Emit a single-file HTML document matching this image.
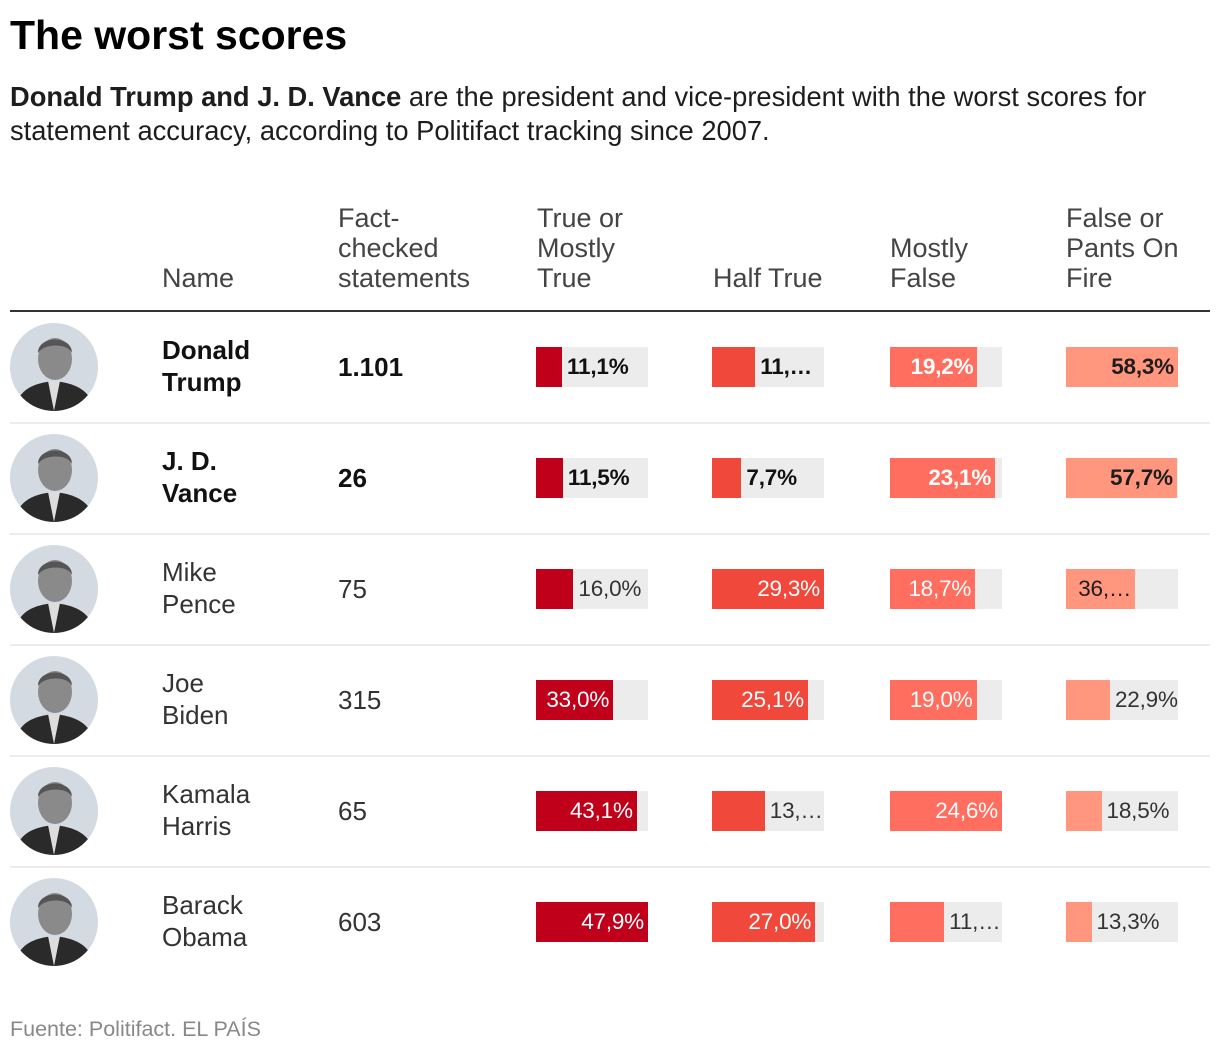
<!DOCTYPE html>
<html><head><meta charset="utf-8">
<style>
body{margin:0;width:1220px;height:1054px;background:#fff;font-family:"Liberation Sans",sans-serif;position:relative;overflow:hidden;color:#1d1d1d}
.a{position:absolute;white-space:nowrap}
#title{left:10px;top:12px;font-size:41px;font-weight:bold;color:#000}
#sub{left:10px;top:80px;font-size:27.3px;line-height:34px;color:#1d1d1d}
.hd{font-size:27px;line-height:30px;color:#444}
.nm{font-size:26px;line-height:32px}
.ct{font-size:26px}
.cell{position:absolute;height:40px;background:#ececec}
.bar{position:absolute;left:0;top:0;height:40px}
.lbl{position:absolute;top:0;line-height:40px;font-size:22.5px;letter-spacing:-0.2px}
.sep{position:absolute;left:10px;width:1200px;height:2px;background:#ececec}
</style></head><body>
<div class="a" id="title">The worst scores</div>
<div class="a" id="sub"><b>Donald Trump and J. D. Vance</b> are the president and vice-president with the worst scores for<br>statement accuracy, according to Politifact tracking since 2007.</div>
<div class="a hd" style="left:162px;top:263px">Name</div>
<div class="a hd" style="left:338px;top:203px">Fact-<br>checked<br>statements</div>
<div class="a hd" style="left:537px;top:203px">True or<br>Mostly<br>True</div>
<div class="a hd" style="left:713px;top:263px">Half True</div>
<div class="a hd" style="left:890px;top:233px">Mostly<br>False</div>
<div class="a hd" style="left:1066px;top:203px">False or<br>Pants On<br>Fire</div>
<div class="a" style="left:10px;top:310px;width:1200px;height:2px;background:#333"></div>
<div class="a" style="left:10px;top:1017px;font-size:21.5px;color:#888">Fuente: Politifact. EL PAÍS</div>
<div id="tbl"></div>
<script>
const names=["Donald<br>Trump","J. D.<br>Vance","Mike<br>Pence","Joe<br>Biden","Kamala<br>Harris","Barack<br>Obama"];
const counts=["1.101","26","75","315","65","603"];
const trueVals=[11.1,11.5,16.0,33.0,43.1,47.9];
const halfVals=[11.3,7.7,29.3,25.1,13.8,27.0];
const mfalseVals=[19.2,23.1,18.7,19.0,24.6,11.9];
const falseVals=[58.3,57.7,36.0,22.9,18.5,13.3];
const labels=[["11,1%","11,…","19,2%","58,3%"],["11,5%","7,7%","23,1%","57,7%"],["16,0%","29,3%","18,7%","36,…"],["33,0%","25,1%","19,0%","22,9%"],["43,1%","13,…","24,6%","18,5%"],["47,9%","27,0%","11,…","13,3%"]];
const cols=[trueVals,halfVals,mfalseVals,falseVals];
const colX=[536,712,890,1066],colors=["#c0001a","#f0483a","#ff6e5e","#ff967d"],inkIn=["#fff","#fff","#fff","#1d1d1d"];
const colNames=["true","half-true","mostly-false","false"];
const W=112,rowTop=312,rowH=111;
const tbl=document.getElementById('tbl');
function scale(col,v){const m=Math.max(...cols[col]);return v/m*W;}
names.forEach((n,i)=>{
  const cy=rowTop+rowH*i+55, bold=i<2;
  const ph=document.createElement('div');ph.className='a';
  
  
  ph.style.cssText=`left:10px;top:${cy-44}px;width:88px;height:88px`;
  ph.innerHTML=`<svg width="88" height="88"><defs><clipPath id="c${i}"><circle cx="44" cy="44" r="44"/></clipPath></defs><g clip-path="url(#c${i})"><rect width="88" height="88" fill="#d3dae2"/><path d="M4 88 C8 66 24 60 44 58 C64 60 80 66 86 88Z" fill="#2a2a2a"/><path d="M38 58 L44 88 L50 58Z" fill="#ddd"/><ellipse cx="45" cy="36" rx="17" ry="21" fill="#8a8a8a"/><path d="M28 30 C28 12 62 12 62 30 C58 20 34 20 28 30Z" fill="#555"/></g></svg>`;
  tbl.appendChild(ph);
  const nm=document.createElement('div');nm.className='a nm';
  
  
  nm.style.cssText=`left:162px;top:${cy-33}px;font-weight:${bold?'bold':'normal'};color:${bold?'#111':'#333'}`;
  nm.innerHTML=n;tbl.appendChild(nm);
  const ct=document.createElement('div');ct.className='a ct';
  
  
  ct.style.cssText=`left:338px;top:${cy-15}px;font-weight:${bold?'bold':'normal'};color:${bold?'#111':'#333'}`;
  ct.textContent=counts[i];tbl.appendChild(ct);
  cols.forEach((arr,c)=>{
    const w=scale(c,arr[i]);
    const cell=document.createElement('div');cell.className='cell';
    
    
    cell.style.cssText=`left:${colX[c]}px;top:${cy-20}px;width:${W}px`;
    const bar=document.createElement('div');bar.className='bar';
    
    
    bar.style.width=w+'px';bar.style.background=colors[c];
    cell.appendChild(bar);
    const lb=document.createElement('div');lb.className='lbl';
    
    
    lb.textContent=labels[i][c];
    lb.style.fontWeight=bold?'bold':'normal';
    if(w>=62){lb.style.right=(W-w+4)+'px';lb.style.color=inkIn[c];}
    else{lb.style.left=(w+5)+'px';lb.style.color=bold?'#111':'#333';}
    cell.appendChild(lb);
    tbl.appendChild(cell);
  });
  if(i<5){const s=document.createElement('div');s.className='sep';
    
    
    s.style.top=(rowTop+rowH*(i+1)-1)+'px';tbl.appendChild(s);}
});
</script>
</body></html>
